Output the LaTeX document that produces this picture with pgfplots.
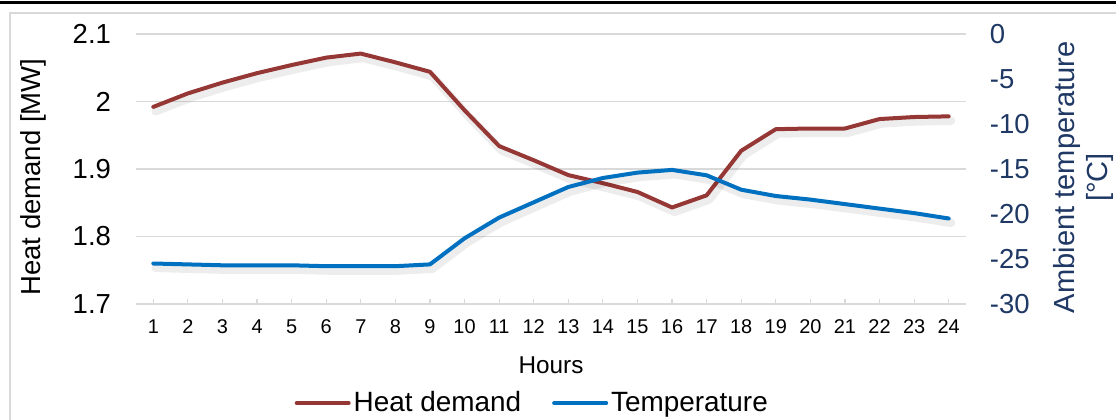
\documentclass[border=0pt]{standalone}
\usepackage{pgfplots}
\pgfplotsset{compat=1.18}
\usepackage{pgfplotstable}
\usepackage{fontspec}
\setmainfont{Liberation Sans}

\definecolor{heatred}{RGB}{149,55,53}
\definecolor{tempblue}{RGB}{0,112,192}
\definecolor{navy}{RGB}{31,56,100}
\definecolor{gridgray}{RGB}{217,217,217}

% hour, heat demand [MW], ambient temperature [C]
\pgfplotstableread{
hour heat temp
1  1.992 -25.5
2  2.012 -25.6
3  2.028 -25.7
4  2.042 -25.7
5  2.054 -25.7
6  2.065 -25.8
7  2.071 -25.8
8  2.058 -25.8
9  2.044 -25.6
10 1.987 -22.7
11 1.934 -20.4
12 1.913 -18.7
13 1.891 -17.0
14 1.879 -16.0
15 1.866 -15.4
16 1.843 -15.1
17 1.861 -15.7
18 1.927 -17.3
19 1.959 -18.0
20 1.960 -18.4
21 1.960 -18.9
22 1.974 -19.4
23 1.977 -19.9
24 1.978 -20.5
}\hourly

\pgfplotsset{
  common/.style={
    scale only axis,
    width=415bp, height=135bp,
    at={(68bp,58bp)}, anchor=south west,
    xmin=0.5, xmax=24.5,
    /pgf/number format/assume math mode=true,
  },
  shadow/.style={black, opacity=0.07, line width=4.2bp, line cap=round, line join=round,
    forget plot, transform canvas={shift={(1.2bp,-2.2bp)}}},
}

\begin{document}
\begin{tikzpicture}
\useasboundingbox (0,0) rectangle (558bp,210bp);
\fill[white] (0,0) rectangle (558bp,210bp);
\draw[black, line width=1.3bp] (0,208.6bp) -- (558bp,208.6bp);
\draw[gridgray, line width=0.8bp] (5bp,-1bp) -- (5bp,203.5bp) -- (560bp,203.5bp);

\begin{axis}[
  common,
  ymin=1.7, ymax=2.1,
  ytick={1.7,1.8,1.9,2,2.1},
  xtick={1,...,24},
  axis x line*=bottom,
  axis y line*=left,
  y axis line style={draw=none},
  x axis line style={draw=gridgray, line width=0.8bp, -},
  ytick style={draw=none},
  xtick style={draw=gridgray, line width=0.6bp},
  major tick length=2.5bp,
  ymajorgrids,
  grid style={gridgray, line width=0.8bp},
  yticklabel style={font=\fontsize{13.8}{16}\selectfont, xshift=-9bp},
  xticklabel style={font=\fontsize{10}{12}\selectfont, yshift=-4.5bp},
  xlabel={Hours},
  xlabel style={font=\fontsize{12.2}{14}\selectfont, yshift=-4.5bp},
  ylabel={Heat demand [MW]},
  every axis y label/.style={at={(axis description cs:-0.124,0.47)}, rotate=90, anchor=center,
    font=\fontsize{13.8}{16}\selectfont},
]
\addplot[shadow] table[x=hour, y=heat] {\hourly};
\addplot[heatred, line width=2bp, line cap=round, line join=round] table[x=hour, y=heat] {\hourly};
\end{axis}

\begin{axis}[
  common,
  ymin=-30, ymax=0,
  ytick={-30,-25,...,0},
  axis x line=none,
  axis y line*=right,
  y axis line style={draw=none},
  ytick style={draw=none},
  yticklabel style={font=\fontsize{13.8}{16}\selectfont, text=navy, xshift=8.4bp},
  ylabel={Ambient temperature\\{}[°C]},
  every axis y label/.style={at={(axis description cs:1.1416,0.469)}, rotate=90, anchor=center,
    align=center, text=navy, font=\fontsize{14.6}{16.5}\selectfont},
  legend style={draw=none, fill=none, at={(axis description cs:0.478,-0.367)}, anchor=center,
    font=\fontsize{14}{16}\selectfont, inner sep=0pt,
    nodes={inner sep=1.5bp},
    /tikz/every even column/.append style={column sep=14bp}},
  legend columns=2,
  legend image code/.code={\draw[#1, line width=2bp, line cap=round] (0bp,0bp) -- (26bp,0bp);},
]
\addlegendimage{heatred}
\addlegendentry{Heat demand}
\addplot[shadow] table[x=hour, y=temp] {\hourly};
\addplot[tempblue, line width=2bp, line cap=round, line join=round] table[x=hour, y=temp] {\hourly};
\addlegendentry{Temperature}
\end{axis}
\end{tikzpicture}
\end{document}
